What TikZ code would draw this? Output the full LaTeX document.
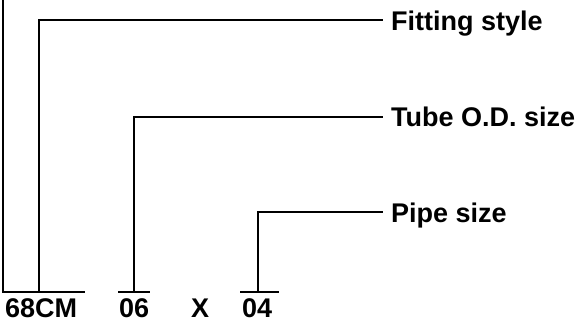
\documentclass[tikz,border=0pt]{standalone}
\usepackage{fontspec}
\setmainfont{Liberation Sans}
\begin{document}
\begin{tikzpicture}[x=1pt,y=-1pt,
  ln/.style={line width=2pt},
  lbl/.style={anchor=base west,inner sep=0pt,font=\fontsize{27}{31}\selectfont\bfseries},
  code/.style={anchor=base west,inner sep=0pt,font=\fontsize{27}{31}\selectfont\bfseries}]
\useasboundingbox (0,0) rectangle (575,323);
% labels
\node[lbl] (fs) at (391,30.5) {Fitting style};
\node[lbl] (tod) at (391,126.5) {Tube O.D. size};
\node[lbl] (ps) at (391,222.5) {Pipe size};
% codes
\node[code] (c68) at (5,317) {68CM};
\node[code] (c06) at (119,317) {06};
\node[code] (cx) at (191,317) {X};
\node[code] (c04) at (242,317) {04};
% coordinates
\coordinate (top) at (3,0);
\coordinate (u68l) at (3,292);
\coordinate (u68r) at (85,292);
\coordinate (u06l) at (118,292);
\coordinate (u06r) at (150,292);
\coordinate (u04l) at (240,292);
\coordinate (u04r) at (279,292);
\coordinate (b68) at (39,292);
\coordinate (k68) at (39,20);
\coordinate (e68) at (383,20);
\coordinate (b06) at (134,292);
\coordinate (k06) at (134,117);
\coordinate (e06) at (383,117);
\coordinate (b04) at (258,292);
\coordinate (k04) at (258,212);
\coordinate (e04) at (383,212);
% lines
\draw[ln] (top) -- (u68l) -- (u68r);
\draw[ln] (u06l) -- (u06r);
\draw[ln] (u04l) -- (u04r);
\draw[ln] (b68) -- (k68) -- (e68);
\draw[ln] (b06) -- (k06) -- (e06);
\draw[ln] (b04) -- (k04) -- (e04);
\end{tikzpicture}
\end{document}
